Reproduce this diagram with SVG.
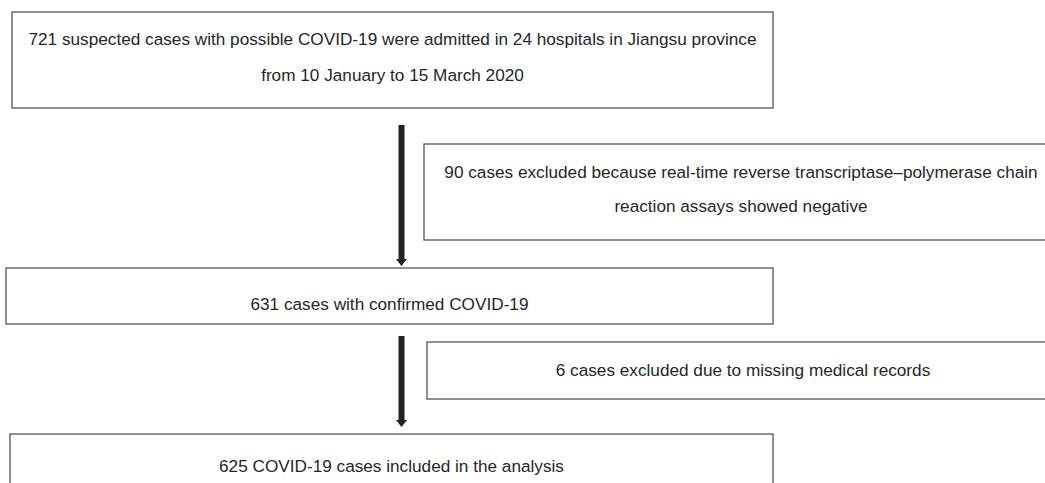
<svg xmlns="http://www.w3.org/2000/svg" width="1045" height="483" viewBox="0 0 1045 483">
<style>
.box{fill:#fff;stroke:#555;stroke-width:1.3}
.t{font-family:"Liberation Sans",Arial,sans-serif;font-size:17.2px;fill:#262626;text-anchor:middle}
.shaft{fill:#222}
</style>
<rect width="1045" height="483" fill="#fff"/>
<g id="n1">
<rect class="box" x="12" y="12" width="761" height="96"/>
<text class="t" x="392.5" y="45">721 suspected cases with possible COVID-19 were admitted in 24 hospitals in Jiangsu province</text>
<text class="t" x="392.5" y="81">from 10 January to 15 March 2020</text>
</g>
<g id="n2">
<rect class="box" x="424" y="144" width="640" height="96"/>
<text class="t" x="741" y="178">90 cases excluded because real-time reverse transcriptase–polymerase chain</text>
<text class="t" x="741" y="212">reaction assays showed negative</text>
</g>
<g id="n3">
<rect class="box" x="6" y="268" width="767" height="56"/>
<text class="t" x="389.5" y="310">631 cases with confirmed COVID-19</text>
</g>
<g id="n4">
<rect class="box" x="427" y="342" width="640" height="57"/>
<text class="t" x="743" y="376">6 cases excluded due to missing medical records</text>
</g>
<g id="n5">
<rect class="box" x="10" y="434" width="763" height="60"/>
<text class="t" x="391.5" y="472">625 COVID-19 cases included in the analysis</text>
</g>
<g id="connectors">
<path class="shaft" d="M398.5,125 H404.5 V259 H407 L401.5,266 L396,259 H398.5 Z"/>
<path class="shaft" d="M398.5,336 H404.5 V420 H407 L401.5,427 L396,420 H398.5 Z"/>
</g>
</svg>
